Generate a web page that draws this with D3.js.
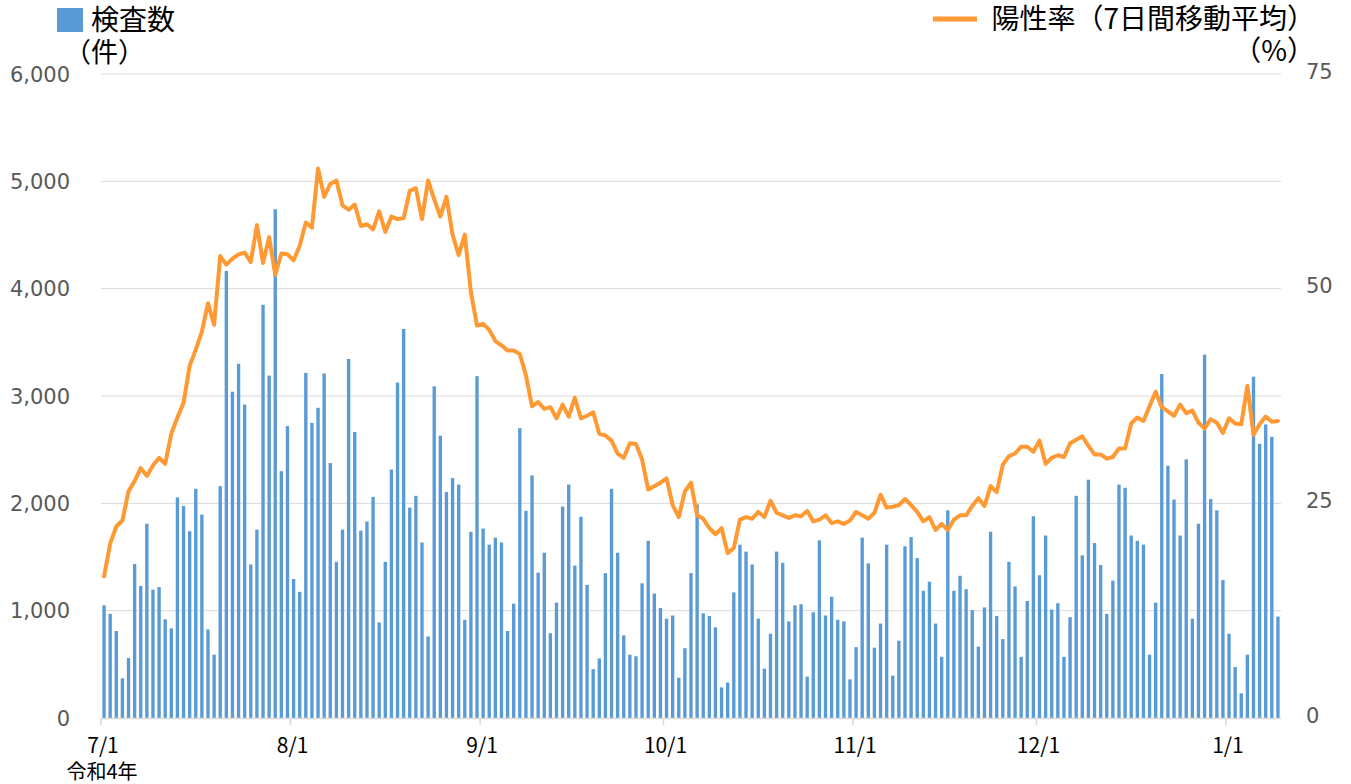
<!DOCTYPE html>
<html lang="ja">
<head>
  <meta charset="utf-8">
  <title>検査数と陽性率</title>
  <script src="https://d3js.org/d3.v7.min.js"></script>
  <style>
    html, body { margin:0; padding:0; background:#fff; }
    svg { display:block; }
  </style>
</head>
<body>
  <svg id="chart" width="1351" height="784"></svg>
  <script>
    // ─── Data ────────────────────────────────────────────────────────────────
    const START_DAY = new Date(2022, 6, 1);   // 7/1 (令和4年)
    const END_DAY   = new Date(2023, 0, 10);  // exclusive → last bar 1/9

    // daily number of tests (件)
    const tests = [
      1050, 970, 810, 370, 560, 1435, 1230, 1810, 1195, 1220, 920, 835, 2055, 1975, 1740, 2135,
      1895, 825, 590, 2160, 4165, 3040, 3300, 2920, 1430, 1755, 3850, 3190, 4740, 2300, 2720, 1295,
      1175, 3215, 2750, 2890, 3210, 2375, 1455, 1755, 3345, 2665, 1745, 1830, 2060, 890, 1455, 2315,
      3125, 3625, 1960, 2070, 1635, 760, 3090, 2630, 2105, 2235, 2175, 915, 1735, 3185, 1765,
      1615, 1680, 1635, 810, 1065, 2700, 1930, 2260, 1355, 1540, 790, 1075, 1970, 2175, 1420, 1875,
      1240, 455, 555, 1350, 2135, 1540, 770, 590, 575, 1255, 1650, 1160, 1025, 925, 955,
      375, 650, 1350, 1990, 975, 950, 845, 285, 330, 1170, 1615, 1550, 1430, 925, 460, 785,
      1550, 1445, 900, 1050, 1060, 385, 985, 1655, 955, 1130, 915, 900, 360, 660, 1680,
      1440, 655, 880, 1615, 395, 720, 1600, 1685, 1490, 1185, 1270, 880, 570, 1935, 1185, 1325,
      1200, 1005, 665, 1030, 1735, 950, 735, 1455, 1225, 570, 1090, 1880, 1330, 1700, 1010,
      1070, 570, 940, 2070, 1515, 2220, 1630, 1425, 970, 1280, 2175, 2145, 1700, 1650, 1615, 590,
      1075, 3205, 2350, 2035, 1700, 2410, 925, 1810, 3385, 2040, 1935, 1285, 785, 475, 230, 590,
      3180, 2555, 2735, 2620, 945
    ];

    // positivity rate, 7-day moving average (%)
    const positivity = [
      16.5, 20.3, 22.3, 23.0, 26.4, 27.6, 29.1, 28.2, 29.4, 30.3, 29.6, 33.1, 35.0, 36.7, 41.0, 42.9,
      45.0, 48.3, 45.8, 53.8, 52.8, 53.5, 54.0, 54.2, 53.1, 57.4, 53.0, 56.0, 51.6, 54.1, 54.0, 53.3,
      55.0, 57.7, 57.1, 64.0, 60.7, 62.2, 62.6, 59.7, 59.2, 59.8, 57.3, 57.5, 56.9, 59.0, 56.6, 58.4,
      58.1, 58.2, 61.4, 61.7, 58.1, 62.6, 60.4, 58.4, 60.7, 56.3, 53.9, 56.3, 49.6, 45.7, 45.9,
      45.2, 43.9, 43.4, 42.8, 42.8, 42.4, 39.9, 36.3, 36.8, 36.0, 36.2, 34.9, 36.5, 35.1, 37.3, 34.9,
      35.2, 35.6, 33.1, 32.9, 32.3, 30.8, 30.3, 32.0, 31.9, 30.1, 26.6, 27.0, 27.4, 27.9, 24.8,
      23.4, 26.4, 27.4, 23.6, 23.2, 22.1, 21.4, 22.1, 19.2, 19.8, 23.1, 23.4, 23.2, 24.0, 23.4, 25.3,
      23.9, 23.6, 23.3, 23.6, 23.5, 24.1, 22.9, 23.1, 23.6, 22.7, 22.9, 22.6, 23.0, 24.0, 23.6,
      23.2, 23.9, 26.0, 24.5, 24.6, 24.8, 25.5, 24.8, 24.0, 22.9, 23.4, 21.9, 22.6, 21.9, 23.1, 23.6,
      23.6, 24.7, 25.6, 24.7, 27.0, 26.3, 29.5, 30.5, 30.8, 31.6, 31.6, 31.0, 32.3, 29.6, 30.3,
      30.6, 30.4, 32.0, 32.4, 32.8, 31.7, 30.7, 30.7, 30.2, 30.4, 31.4, 31.4, 34.3, 35.0, 34.6, 36.3,
      38.0, 36.2, 35.7, 35.2, 36.5, 35.5, 35.8, 34.4, 33.7, 34.8, 34.4, 33.2, 34.9, 34.3, 34.2, 38.7,
      33.0, 34.2, 35.1, 34.5, 34.6
    ];

    const monthTicks   = ["7/1", "8/1", "9/1", "10/1", "11/1", "12/1", "1/1"];
    const leftTicks    = [0, 1000, 2000, 3000, 4000, 5000, 6000];
    const rightTicks   = [0, 25, 50, 75];
    // ─────────────────────────────────────────────────────────────────────────

    const BLUE   = "#5b9bd5";
    const ORANGE = "#ff9933";
    const GRID   = "#d9d9d9";
    const NUM_FONT = "'DejaVu Sans', Verdana, sans-serif";
    const JP_FONT  = "'Noto Sans CJK JP', 'Noto Sans', sans-serif";

    const days = d3.timeDay.range(START_DAY, END_DAY);
    const fmt  = d3.timeFormat("%-m/%-d");
    const rows = days.map((d, i) => ({ day: d, label: fmt(d), tests: tests[i], pos: positivity[i] }));

    const svg = d3.select("#chart");
    const plot = { left: 101, right: 1281, top: 74, bottom: 718 };

    // Scales
    const x = d3.scaleBand()
      .domain(rows.map(r => r.label))
      .range([plot.left, plot.right]);
    const yL = d3.scaleLinear().domain([0, 6000]).range([plot.bottom, plot.top]);
    const yR = d3.scaleLinear().domain([0, 75]).range([plot.bottom, plot.top]);
    const barW = x.bandwidth() * 0.55;

    // Gridlines
    svg.append("g")
      .selectAll("line")
      .data(leftTicks.filter(v => v > 0))
      .join("line")
        .attr("x1", plot.left).attr("x2", plot.right)
        .attr("y1", d => yL(d)).attr("y2", d => yL(d))
        .attr("stroke", GRID).attr("stroke-width", 1);

    // Left axis labels
    svg.append("g")
      .selectAll("text")
      .data(leftTicks)
      .join("text")
        .attr("x", 70).attr("y", d => yL(d))
        .attr("dy", "0.36em")
        .attr("text-anchor", "end")
        .style("font-family", NUM_FONT).style("font-size", "21px")
        .style("fill", "#595959")
        .text(d => d3.format(",")(d));

    // Right axis labels
    svg.append("g")
      .selectAll("text")
      .data(rightTicks)
      .join("text")
        .attr("x", 1306).attr("y", d => yR(d) - 3)
        .attr("dy", "0.36em")
        .style("font-family", NUM_FONT).style("font-size", "21px")
        .style("fill", "#595959")
        .text(d => d);

    // Bars
    svg.append("g")
      .selectAll("rect")
      .data(rows)
      .join("rect")
        .attr("x", d => x(d.label) + (x.bandwidth() - barW) / 2)
        .attr("y", d => yL(d.tests))
        .attr("width", barW)
        .attr("height", d => yL(0) - yL(d.tests))
        .attr("fill", BLUE);

    // Bottom axis line + month ticks
    svg.append("line")
      .attr("x1", plot.left).attr("x2", plot.right)
      .attr("y1", plot.bottom + 0.5).attr("y2", plot.bottom + 0.5)
      .attr("stroke", GRID).attr("stroke-width", 1.5);

    const tickG = svg.append("g")
      .selectAll("g")
      .data(monthTicks)
      .join("g")
        .attr("transform", d => `translate(${x(d)},${plot.bottom})`);
    tickG.append("line")
      .attr("y1", 0).attr("y2", 7)
      .attr("stroke", GRID).attr("stroke-width", 1.5);
    tickG.append("text")
      .attr("x", 2).attr("y", 35)
      .attr("text-anchor", "middle")
      .style("font-family", JP_FONT).style("font-size", "21px")
      .style("fill", "#000")
      .text(d => d);

    svg.append("text")
      .attr("x", x(monthTicks[0]) + 1).attr("y", 779)
      .attr("text-anchor", "middle")
      .style("font-family", JP_FONT).style("font-size", "20px")
      .style("fill", "#000")
      .text("令和4年");

    // Positivity line
    const line = d3.line()
      .x(d => x(d.label) + x.bandwidth() / 2)
      .y(d => yR(d.pos));
    svg.append("path")
      .datum(rows)
      .attr("d", line)
      .attr("fill", "none")
      .attr("stroke", ORANGE)
      .attr("stroke-width", 4)
      .attr("stroke-linejoin", "round")
      .attr("stroke-linecap", "round");

    // Legend (left)
    svg.append("rect")
      .attr("x", 57).attr("y", 8).attr("width", 26).attr("height", 24)
      .attr("fill", BLUE);
    svg.append("text")
      .attr("x", 91).attr("y", 30)
      .style("font-family", JP_FONT).style("font-size", "28px").style("fill", "#000")
      .text("検査数");
    svg.append("text")
      .attr("x", 64).attr("y", 62)
      .style("font-family", JP_FONT).style("font-size", "27px").style("fill", "#000")
      .text("（件）");

    // Legend (right)
    svg.append("line")
      .attr("x1", 933).attr("x2", 977).attr("y1", 19).attr("y2", 19)
      .attr("stroke", ORANGE).attr("stroke-width", 5);
    svg.append("text")
      .attr("x", 1315).attr("y", 29)
      .attr("text-anchor", "end")
      .style("font-family", JP_FONT).style("font-size", "28px").style("fill", "#000")
      .text("陽性率（7日間移動平均）");
    svg.append("text")
      .attr("x", 1315).attr("y", 61)
      .attr("text-anchor", "end")
      .style("font-family", JP_FONT).style("font-size", "28px").style("fill", "#000")
      .text("（%）");
  </script>
</body>
</html>
